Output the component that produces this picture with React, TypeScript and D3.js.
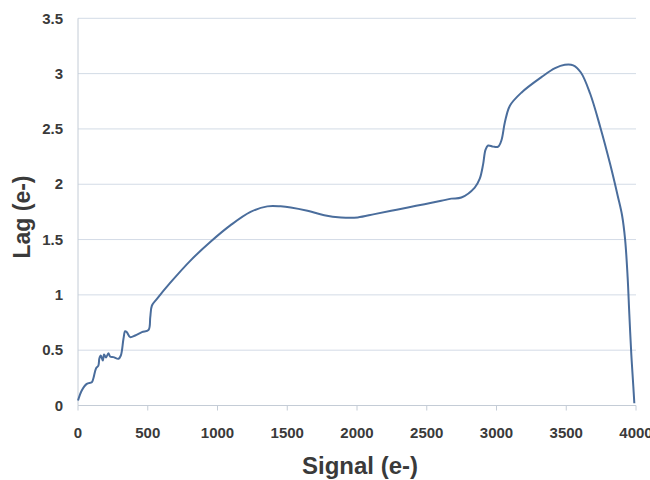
import { useEffect, useRef } from 'react';
import * as d3 from 'd3';

// values
const signal = [
  0, 27, 63, 99, 110, 129, 146, 153, 163, 178, 187, 201, 218, 230, 254, 290, 307, 326, 338, 350,
  374, 410, 458, 506, 518, 530, 566, 662, 806, 950, 1094, 1237, 1357, 1453, 1525, 1645, 1765,
  1885, 2005, 2125, 2245, 2365, 2484, 2604, 2676, 2748, 2844, 2880, 2904, 2921, 2940, 2976, 3012,
  3036, 3060, 3096, 3180, 3324, 3420, 3490, 3550, 3605, 3671, 3743, 3815, 3870, 3900, 3922, 3940,
  3952, 3966, 3981, 3988,
];
const lag = [
  0.045, 0.136, 0.196, 0.21, 0.244, 0.335, 0.36, 0.425, 0.452, 0.407, 0.461, 0.434, 0.473, 0.443,
  0.437, 0.422, 0.452, 0.603, 0.672, 0.663, 0.618, 0.633, 0.663, 0.684, 0.798, 0.904, 0.964, 1.11,
  1.31, 1.48, 1.63, 1.75, 1.8, 1.8, 1.79, 1.76, 1.72, 1.7, 1.7, 1.73, 1.76, 1.79, 1.82, 1.85, 1.87,
  1.88, 1.97, 2.05, 2.18, 2.31, 2.35, 2.34, 2.34, 2.4, 2.56, 2.71, 2.83, 2.97, 3.05, 3.08, 3.075,
  3.01, 2.82, 2.52, 2.18, 1.89, 1.72, 1.5, 1.16, 0.83, 0.47, 0.17, 0.02,
];
const xTicks = [0, 500, 1000, 1500, 2000, 2500, 3000, 3500, 4000];
const yTicks = [0, 0.5, 1, 1.5, 2, 2.5, 3, 3.5];

const width = 650;
const height = 480;
const font = "'Liberation Sans', Arial, sans-serif";

const App = () => {
  const ref = useRef<SVGSVGElement>(null);

  useEffect(() => {
    const svg = d3.select(ref.current);
    svg.selectAll('*').remove();

    const x = d3.scaleLinear().domain([0, 4000]).range([78, 636]);
    const y = d3.scaleLinear().domain([0, 3.5]).range([405.5, 18.3]);

    // gridlines
    svg
      .append('g')
      .selectAll('line')
      .data(yTicks.slice(1))
      .enter()
      .append('line')
      .attr('x1', x(0))
      .attr('x2', x(4000))
      .attr('y1', (d: number) => y(d))
      .attr('y2', (d: number) => y(d))
      .style('stroke', '#d3dbe6')
      .style('stroke-width', 1);

    // axis lines
    svg
      .append('line')
      .attr('x1', x(0))
      .attr('x2', x(0))
      .attr('y1', y(0))
      .attr('y2', y(3.5))
      .style('stroke', '#c4ccd6');
    svg
      .append('line')
      .attr('x1', x(0))
      .attr('x2', x(4000))
      .attr('y1', y(0))
      .attr('y2', y(0))
      .style('stroke', '#c4ccd6');

    svg
      .append('g')
      .selectAll('line')
      .data(xTicks)
      .enter()
      .append('line')
      .attr('x1', (d: number) => x(d))
      .attr('x2', (d: number) => x(d))
      .attr('y1', y(0))
      .attr('y2', y(0) + 5)
      .style('stroke', '#c4ccd6');

    // tick labels (the last one runs off the right edge, as in the scan)
    svg
      .append('g')
      .selectAll('text')
      .data(xTicks)
      .enter()
      .append('text')
      .attr('x', (d: number) => x(d))
      .attr('y', 438)
      .attr('text-anchor', 'middle')
      .style('font-family', font)
      .style('font-size', '15px')
      .style('font-weight', 'bold')
      .style('fill', '#3a3a3a')
      .text((d: number) => String(d));

    svg
      .append('g')
      .selectAll('text')
      .data(yTicks)
      .enter()
      .append('text')
      .attr('x', 63)
      .attr('y', (d: number) => y(d))
      .attr('dy', '0.35em')
      .attr('text-anchor', 'end')
      .style('font-family', font)
      .style('font-size', '15px')
      .style('font-weight', 'bold')
      .style('fill', '#3a3a3a')
      .text((d: number) => String(d));

    // axis titles
    svg
      .append('text')
      .attr('x', 360)
      .attr('y', 474)
      .attr('text-anchor', 'middle')
      .style('font-family', font)
      .style('font-size', '24px')
      .style('font-weight', 'bold')
      .style('fill', '#3a3a3a')
      .text('Signal (e-)');

    svg
      .append('text')
      .attr('transform', 'translate(30,217) rotate(-90)')
      .attr('text-anchor', 'middle')
      .style('font-family', font)
      .style('font-size', '23px')
      .style('font-weight', 'bold')
      .style('fill', '#3a3a3a')
      .text('Lag (e-)');

    // the curve, smoothed like Excel's line
    const line = d3
      .line<number>()
      .x((_: number, i: number) => x(signal[i]))
      .y((d: number) => y(d))
      .curve(d3.curveCatmullRom.alpha(0.5));

    svg
      .append('path')
      .attr('d', line(lag))
      .style('fill', 'none')
      .style('stroke', '#4a6d9c')
      .style('stroke-width', 2);
  }, []);

  return (
    <svg
      ref={ref}
      width={width}
      height={height}
      style={{ position: 'absolute', left: 0, top: 0, background: 'white' }}
    />
  );
};

export default App;
